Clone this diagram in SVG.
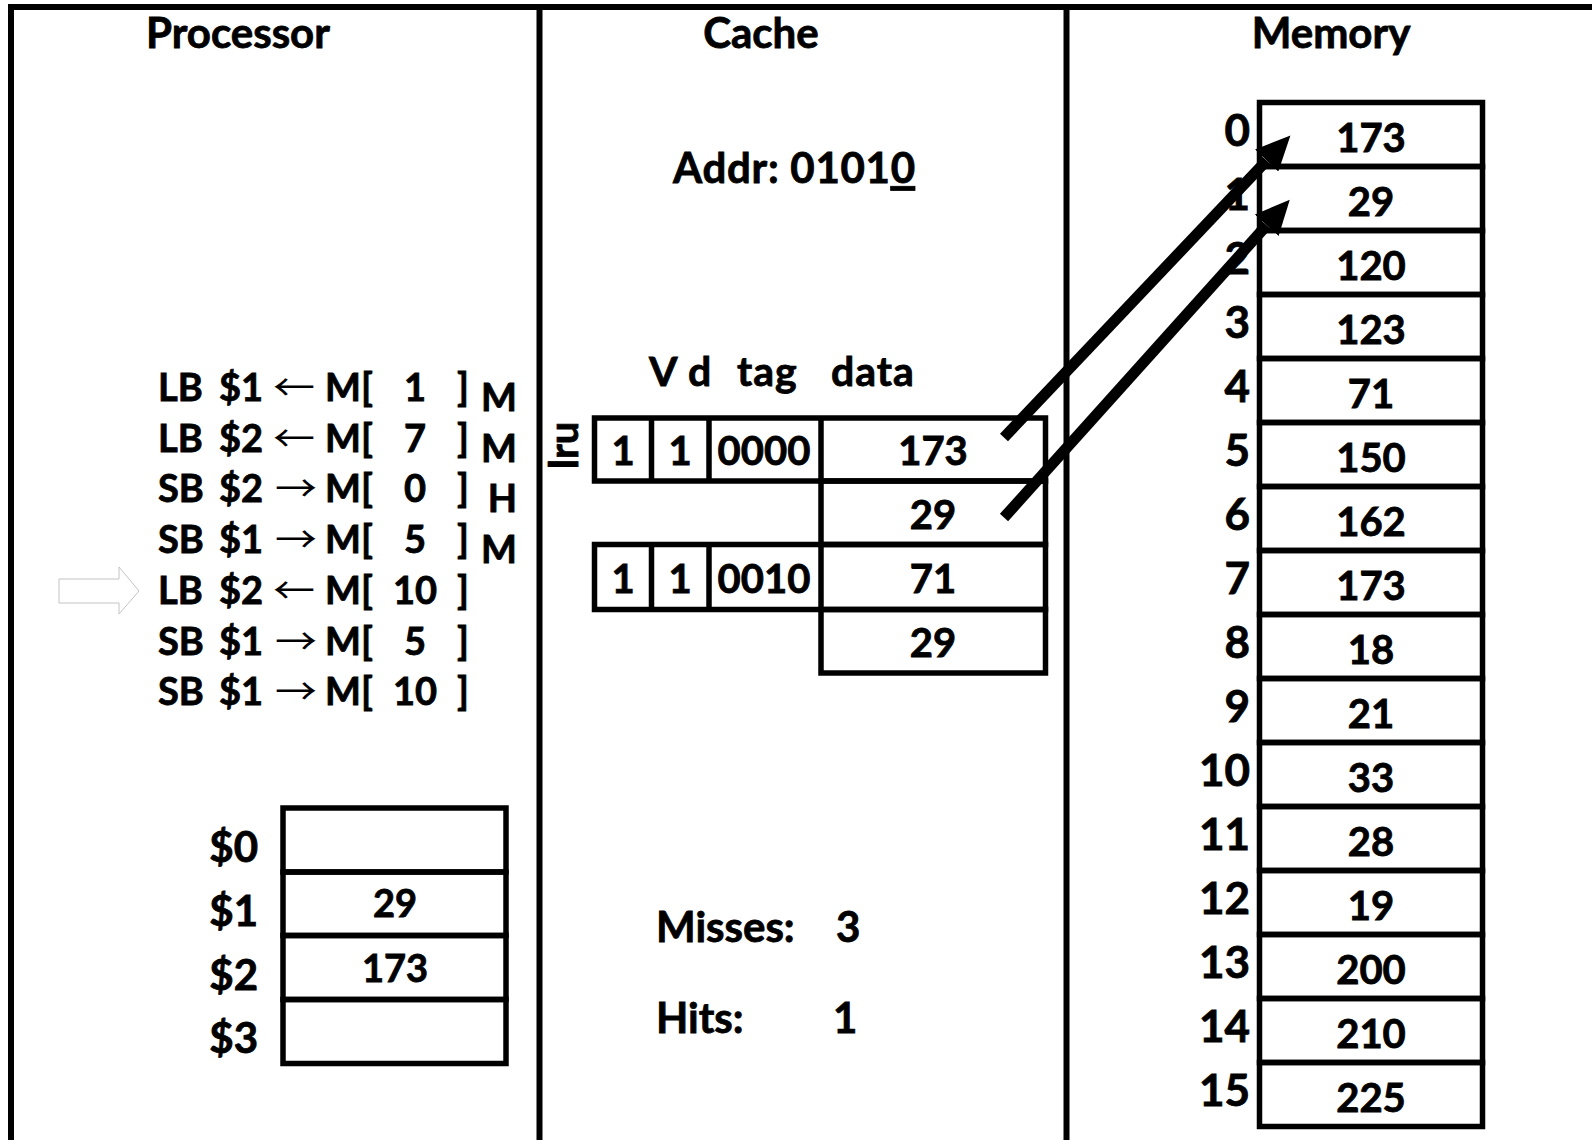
<svg xmlns="http://www.w3.org/2000/svg" width="1592" height="1140" viewBox="0 0 1592 1140">
<style>
text{font-family:Lato,"Open Sans","Liberation Sans",sans-serif;font-weight:700;fill:#000;stroke:#000;stroke-width:0.8px}
.title{font-size:42px;text-anchor:middle}
.ins{font-size:38px}
.arr{font-family:"Noto Sans CJK SC","DejaVu Sans",sans-serif;font-weight:400;font-size:36px;stroke:none}
.mid{text-anchor:middle}
.end{text-anchor:end}
.box{fill:none;stroke:#000;stroke-width:5.5}
.frame{fill:none;stroke:#000;stroke-width:6}
.mv{font-size:40px;text-anchor:middle}
.ml{font-size:44px;text-anchor:end}
.cv{font-size:40px;text-anchor:middle}
.rv{font-size:38px;text-anchor:middle}
.rl{font-size:42px;text-anchor:end}
.stat{font-size:42px}
.hdr{font-size:41px;letter-spacing:1px}
.conn{stroke:#000;stroke-width:11;fill:none;marker-end:url(#head)}
</style>
<defs>
<marker id="head" markerUnits="userSpaceOnUse" viewBox="0 -16 35 32" markerWidth="35" markerHeight="32" refX="0" refY="0" orient="auto">
<path d="M0,-16 L34.5,0 L0,16 Z" fill="#000"/>
</marker>
</defs>
<rect width="1592" height="1140" fill="#fff"/>
<g id="frame">
<path class="frame" d="M11,1140 V7 H1592"/>
<line class="frame" x1="539.5" y1="7" x2="539.5" y2="1140"/>
<line class="frame" x1="1066.5" y1="7" x2="1066.5" y2="1140"/>
</g>
<g id="titles">
<text class="title" x="238" y="48">Processor</text>
<text class="title" x="761" y="48">Cache</text>
<text class="title" x="1331" y="48">Memory</text>
</g>
<g id="instructions">
<text class="ins" y="401"><tspan x="158">LB</tspan><tspan x="219">$1</tspan><tspan class="arr" x="273" textLength="42" lengthAdjust="spacingAndGlyphs">←</tspan><tspan x="325">M[</tspan><tspan class="mid" x="415">1</tspan><tspan x="457">]</tspan></text>
<text class="ins" y="451.7"><tspan x="158">LB</tspan><tspan x="219">$2</tspan><tspan class="arr" x="273" textLength="42" lengthAdjust="spacingAndGlyphs">←</tspan><tspan x="325">M[</tspan><tspan class="mid" x="415">7</tspan><tspan x="457">]</tspan></text>
<text class="ins" y="502.4"><tspan x="158">SB</tspan><tspan x="219">$2</tspan><tspan class="arr" x="275" textLength="42" lengthAdjust="spacingAndGlyphs">→</tspan><tspan x="325">M[</tspan><tspan class="mid" x="415">0</tspan><tspan x="457">]</tspan></text>
<text class="ins" y="553.1"><tspan x="158">SB</tspan><tspan x="219">$1</tspan><tspan class="arr" x="275" textLength="42" lengthAdjust="spacingAndGlyphs">→</tspan><tspan x="325">M[</tspan><tspan class="mid" x="415">5</tspan><tspan x="457">]</tspan></text>
<text class="ins" y="603.8"><tspan x="158">LB</tspan><tspan x="219">$2</tspan><tspan class="arr" x="273" textLength="42" lengthAdjust="spacingAndGlyphs">←</tspan><tspan x="325">M[</tspan><tspan class="mid" x="415">10</tspan><tspan x="457">]</tspan></text>
<text class="ins" y="654.5"><tspan x="158">SB</tspan><tspan x="219">$1</tspan><tspan class="arr" x="275" textLength="42" lengthAdjust="spacingAndGlyphs">→</tspan><tspan x="325">M[</tspan><tspan class="mid" x="415">5</tspan><tspan x="457">]</tspan></text>
<text class="ins" y="705.2"><tspan x="158">SB</tspan><tspan x="219">$1</tspan><tspan class="arr" x="275" textLength="42" lengthAdjust="spacingAndGlyphs">→</tspan><tspan x="325">M[</tspan><tspan class="mid" x="415">10</tspan><tspan x="457">]</tspan></text>
<text class="ins end" x="517" y="411">M</text>
<text class="ins end" x="517" y="461.7">M</text>
<text class="ins end" x="517" y="512.4">H</text>
<text class="ins end" x="517" y="563.1">M</text>
</g>
<g id="pc-pointer">
<polygon points="59,579 119,579 119,567 139,591 119,614 119,603 59,603" fill="#fff" stroke="#c4c4c4" stroke-width="1"/>
</g>
<g id="registers">
<g id="reg0"><rect class="box" x="283" y="808" width="223" height="64"/><text class="rl" x="258" y="861.5">$0</text></g>
<g id="reg1"><rect class="box" x="283" y="872" width="223" height="63.5"/><text class="rl" x="258" y="925.5">$1</text><text class="rv" x="395" y="917">29</text></g>
<g id="reg2"><rect class="box" x="283" y="935.5" width="223" height="64"/><text class="rl" x="258" y="989.5">$2</text><text class="rv" x="395" y="981.5">173</text></g>
<g id="reg3"><rect class="box" x="283" y="999.5" width="223" height="64"/><text class="rl" x="258" y="1053">$3</text></g>
</g>
<g id="addr">
<text class="stat" x="673" y="183.3" textLength="242" lengthAdjust="spacing">Addr: 0101<tspan text-decoration="underline">0</tspan></text>
</g>
<g id="cache-header">
<text class="hdr" y="385.8"><tspan x="649">V</tspan><tspan x="688">d</tspan><tspan x="737">tag</tspan><tspan x="831">data</tspan></text>
<text style="font-size:40px" transform="translate(578,469) rotate(-90)">lru</text>
</g>
<g id="cache-set0">
<rect class="box" x="594.5" y="418" width="451" height="63"/>
<line class="box" x1="651.5" y1="418" x2="651.5" y2="481"/>
<line class="box" x1="709" y1="418" x2="709" y2="481"/>
<line class="box" x1="821" y1="418" x2="821" y2="481"/>
<rect class="box" x="821" y="481" width="224.5" height="63.5"/>
<text class="cv" x="623" y="465">1</text>
<text class="cv" x="680" y="465">1</text>
<text class="cv" x="764" y="465">0000</text>
<text class="cv" x="933" y="465">173</text>
<text class="cv" x="933" y="528.5">29</text>
</g>
<g id="cache-set1">
<rect class="box" x="594.5" y="544.5" width="451" height="65"/>
<line class="box" x1="651.5" y1="544.5" x2="651.5" y2="609.5"/>
<line class="box" x1="709" y1="544.5" x2="709" y2="609.5"/>
<line class="box" x1="821" y1="544.5" x2="821" y2="609.5"/>
<rect class="box" x="821" y="609.5" width="224.5" height="63.5"/>
<text class="cv" x="623" y="593">1</text>
<text class="cv" x="680" y="593">1</text>
<text class="cv" x="764" y="593">0010</text>
<text class="cv" x="933" y="593">71</text>
<text class="cv" x="933" y="656.5">29</text>
</g>
<g id="stats">
<text class="stat" x="656" y="941.7">Misses:</text>
<text class="stat" x="836" y="941.7">3</text>
<text class="stat" x="656" y="1033.3">Hits:</text>
<text class="stat" x="833" y="1033.3">1</text>
</g>
<g id="memory">
<g id="mem0"><rect class="box" x="1259.5" y="102.5" width="223" height="64"/><text class="ml" x="1250" y="146">0</text><text class="mv" x="1371" y="151.5">173</text></g>
<g id="mem1"><rect class="box" x="1259.5" y="166.5" width="223" height="64"/><text class="ml" x="1250" y="210">1</text><text class="mv" x="1371" y="215.5">29</text></g>
<g id="mem2"><rect class="box" x="1259.5" y="230.5" width="223" height="64"/><text class="ml" x="1250" y="274">2</text><text class="mv" x="1371" y="279.5">120</text></g>
<g id="mem3"><rect class="box" x="1259.5" y="294.5" width="223" height="64"/><text class="ml" x="1250" y="338">3</text><text class="mv" x="1371" y="343.5">123</text></g>
<g id="mem4"><rect class="box" x="1259.5" y="358.5" width="223" height="64"/><text class="ml" x="1250" y="402">4</text><text class="mv" x="1371" y="407.5">71</text></g>
<g id="mem5"><rect class="box" x="1259.5" y="422.5" width="223" height="64"/><text class="ml" x="1250" y="466">5</text><text class="mv" x="1371" y="471.5">150</text></g>
<g id="mem6"><rect class="box" x="1259.5" y="486.5" width="223" height="64"/><text class="ml" x="1250" y="530">6</text><text class="mv" x="1371" y="535.5">162</text></g>
<g id="mem7"><rect class="box" x="1259.5" y="550.5" width="223" height="64"/><text class="ml" x="1250" y="594">7</text><text class="mv" x="1371" y="599.5">173</text></g>
<g id="mem8"><rect class="box" x="1259.5" y="614.5" width="223" height="64"/><text class="ml" x="1250" y="658">8</text><text class="mv" x="1371" y="663.5">18</text></g>
<g id="mem9"><rect class="box" x="1259.5" y="678.5" width="223" height="64"/><text class="ml" x="1250" y="722">9</text><text class="mv" x="1371" y="727.5">21</text></g>
<g id="mem10"><rect class="box" x="1259.5" y="742.5" width="223" height="64"/><text class="ml" x="1250" y="786">10</text><text class="mv" x="1371" y="791.5">33</text></g>
<g id="mem11"><rect class="box" x="1259.5" y="806.5" width="223" height="64"/><text class="ml" x="1250" y="850">11</text><text class="mv" x="1371" y="855.5">28</text></g>
<g id="mem12"><rect class="box" x="1259.5" y="870.5" width="223" height="64"/><text class="ml" x="1250" y="914">12</text><text class="mv" x="1371" y="919.5">19</text></g>
<g id="mem13"><rect class="box" x="1259.5" y="934.5" width="223" height="64"/><text class="ml" x="1250" y="978">13</text><text class="mv" x="1371" y="983.5">200</text></g>
<g id="mem14"><rect class="box" x="1259.5" y="998.5" width="223" height="64"/><text class="ml" x="1250" y="1042">14</text><text class="mv" x="1371" y="1047.5">210</text></g>
<g id="mem15"><rect class="box" x="1259.5" y="1062.5" width="223" height="64"/><text class="ml" x="1250" y="1106">15</text><text class="mv" x="1371" y="1111.5">225</text></g>
</g>
<g id="connectors">
<line class="conn" x1="1004" y1="437.5" x2="1266.7" y2="160.5"/>
<line class="conn" x1="1004" y1="517.5" x2="1266.7" y2="225.3"/>
</g>
</svg>
